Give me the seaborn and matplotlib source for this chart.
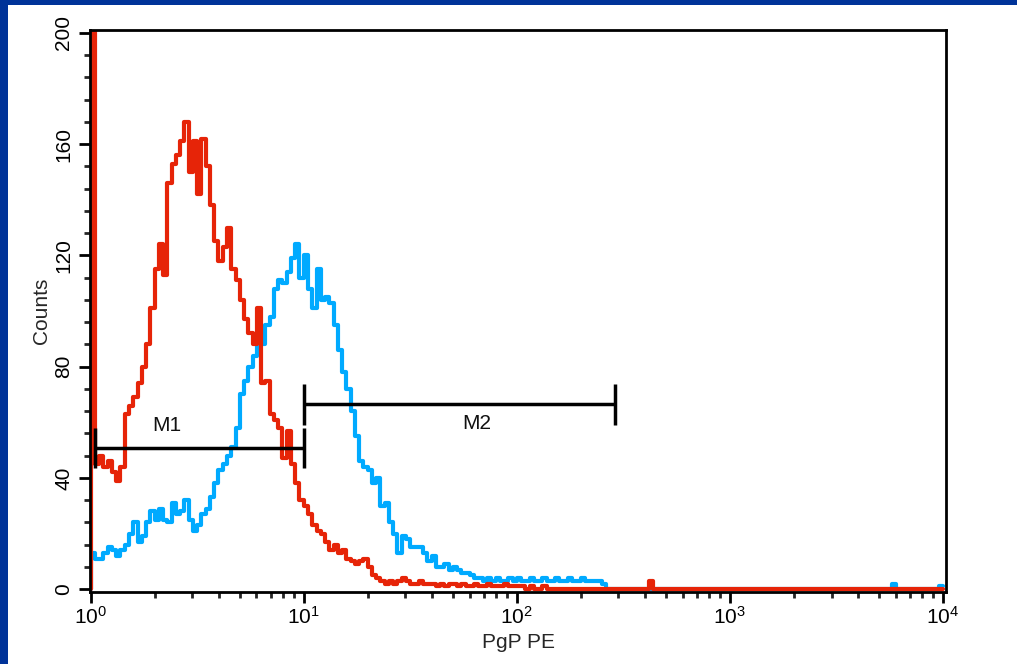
import numpy as np
import pandas as pd
import seaborn as sns
import matplotlib
matplotlib.use("Agg")
import matplotlib.pyplot as plt
from matplotlib.patches import Rectangle
from matplotlib.ticker import LogLocator, MultipleLocator, NullFormatter

# ---------------- data ----------------
# histogram channels: 200 bins, each 0.02 decade wide, from 10^0 to 10^4
bin_width_decades = 0.02
n_bins = 200

red_counts = [
    250, 45, 48, 44, 46, 42, 39, 44, 63, 66,
    69, 74, 80, 88, 101, 115, 124, 113, 146, 153,
    156, 161, 168, 150, 161, 142, 162, 152, 138, 125,
    118, 123, 130, 115, 111, 104, 97, 92, 88, 101,
    74, 75, 63, 61, 58, 47, 57, 45, 38, 32,
    30, 27, 23, 21, 20, 17, 14, 16, 13, 14,
    11, 10, 9, 10, 11, 8, 5, 4, 3, 2,
    3, 2, 3, 4, 3, 2, 2, 3, 2, 2,
    2, 1, 2, 1, 2, 2, 1, 2, 1, 1,
    2, 1, 1, 2, 1, 1, 1, 2, 1, 1,
    1, 1, 0, 1, 0, 0, 1, 0, 0, 0,
    0, 0, 0, 0, 0, 0, 0, 0, 0, 0,
    0, 0, 0, 0, 0, 0, 0, 0, 0, 0,
    0, 3, 0, 0, 0, 0, 0, 0, 0, 0,
    0, 0, 0, 0, 0, 0, 0, 0, 0, 0,
    0, 0, 0, 0, 0, 0, 0, 0, 0, 0,
    0, 0, 0, 0, 0, 0, 0, 0, 0, 0,
    0, 0, 0, 0, 0, 0, 0, 0, 0, 0,
    0, 0, 0, 0, 0, 0, 0, 0, 0, 0,
    0, 0, 0, 0, 0, 0, 0, 0, 0, 0,
]

blue_counts = [
    13, 11, 11, 13, 15, 14, 12, 14, 16, 20,
    24, 17, 19, 24, 28, 25, 29, 25, 24, 31,
    27, 28, 32, 25, 21, 23, 27, 29, 33, 38,
    43, 45, 48, 51, 58, 70, 75, 80, 84, 91,
    88, 95, 98, 108, 111, 110, 114, 119, 124, 112,
    120, 108, 101, 115, 104, 105, 103, 95, 86, 78,
    72, 64, 55, 46, 44, 43, 38, 40, 30, 31,
    24, 20, 13, 19, 18, 15, 15, 15, 13, 10,
    12, 8, 8, 9, 7, 8, 7, 6, 6, 5,
    4, 4, 3, 4, 3, 4, 3, 3, 4, 3,
    4, 3, 3, 4, 3, 3, 4, 3, 3, 4,
    3, 3, 4, 3, 3, 4, 3, 3, 3, 3,
    2, 0, 0, 0, 0, 0, 0, 0, 0, 0,
    0, 0, 0, 0, 0, 0, 0, 0, 0, 0,
    0, 0, 0, 0, 0, 0, 0, 0, 0, 0,
    0, 0, 0, 0, 0, 0, 0, 0, 0, 0,
    0, 0, 0, 0, 0, 0, 0, 0, 0, 0,
    0, 0, 0, 0, 0, 0, 0, 0, 0, 0,
    0, 0, 0, 0, 0, 0, 0, 0, 2, 0,
    0, 0, 0, 0, 0, 0, 0, 0, 0, 1,
]

# gate markers (name, low, high, level)
gate_names = ["M1", "M2"]
gate_low = [1.05, 10.0]
gate_high = [10.0, 288.0]
gate_level = [50.7, 66.5]
gate_label_x = [2.27, 65.0]
gate_label_y = [59.0, 59.6]

x_label = "PgP PE"
y_label = "Counts"

# ---------------- styling ----------------
sns.set_style("ticks")
plt.rcParams["font.family"] = ["Liberation Sans", "DejaVu Sans"]
plt.rcParams["mathtext.default"] = "regular"
plt.rcParams["axes.linewidth"] = 2.0

RED = "#E62408"
BLUE = "#00AAFF"
FRAME = "#003399"

fig = plt.figure(figsize=(10.17, 6.64), dpi=100, facecolor="white")
ax = fig.add_axes([90 / 1017, 1 - 592 / 664, (946 - 90) / 1017, (592 - 30) / 664])

edges = 10 ** (np.arange(n_bins + 1) * bin_width_decades)


def hist_frame(counts):
    return pd.DataFrame({"x": edges, "y": np.r_[0, np.asarray(counts, float)]})


sns.lineplot(data=hist_frame(blue_counts), x="x", y="y", ax=ax, color=BLUE,
             lw=3.0, drawstyle="steps-pre", estimator=None, sort=False)
sns.lineplot(data=hist_frame(red_counts), x="x", y="y", ax=ax, color=RED,
             lw=3.0, drawstyle="steps-pre", estimator=None, sort=False)

# gates
for name, lo, hi, lev, lx, ly in zip(gate_names, gate_low, gate_high, gate_level,
                                     gate_label_x, gate_label_y):
    ax.plot([lo, hi], [lev, lev], color="black", lw=2.5, solid_capstyle="butt", zorder=5)
    ax.vlines([lo, hi], lev - 7.3, lev + 7.3, color="black", lw=2.5, zorder=5)
    ax.text(lx, ly, name, ha="center", va="center", fontsize=15, color="#111111", zorder=6)

ax.set_xscale("log")
ax.set_xlim(10 ** -0.003, 10 ** 4.014)
ax.set_ylim(-1, 201)

ax.xaxis.set_major_locator(LogLocator(base=10, numticks=10))
ax.xaxis.set_minor_locator(LogLocator(base=10, subs=np.arange(2, 10), numticks=20))
ax.xaxis.set_minor_formatter(NullFormatter())
ax.yaxis.set_major_locator(MultipleLocator(40))
ax.yaxis.set_minor_locator(MultipleLocator(8))

ax.tick_params(axis="both", which="major", length=8, width=2, direction="out",
               labelsize=15, colors="black", pad=3)
ax.tick_params(axis="x", which="major", pad=2)
ax.tick_params(axis="both", which="minor", length=4.3, width=2, direction="out")
ax.tick_params(axis="y", labelrotation=90, pad=4)
for lab in ax.get_yticklabels():
    lab.set_va("center")

for sp in ax.spines.values():
    sp.set_visible(True)
    sp.set_color("black")
    sp.set_linewidth(2.0)

ax.set_xlabel(x_label, fontsize=15)
ax.set_ylabel(y_label, fontsize=15)
ax.xaxis.set_label_coords(0.5, -0.073)
ax.yaxis.set_label_coords(-0.046, 0.5)

# blue presentation frame
fig.add_artist(Rectangle((0, 1 - 5 / 664), 1, 5 / 664, transform=fig.transFigure,
                         facecolor=FRAME, edgecolor="none", zorder=10))
fig.add_artist(Rectangle((0, 0), 8 / 1017, 1, transform=fig.transFigure,
                         facecolor=FRAME, edgecolor="none", zorder=10))

fig.savefig("out.png", dpi=100, facecolor="white")
